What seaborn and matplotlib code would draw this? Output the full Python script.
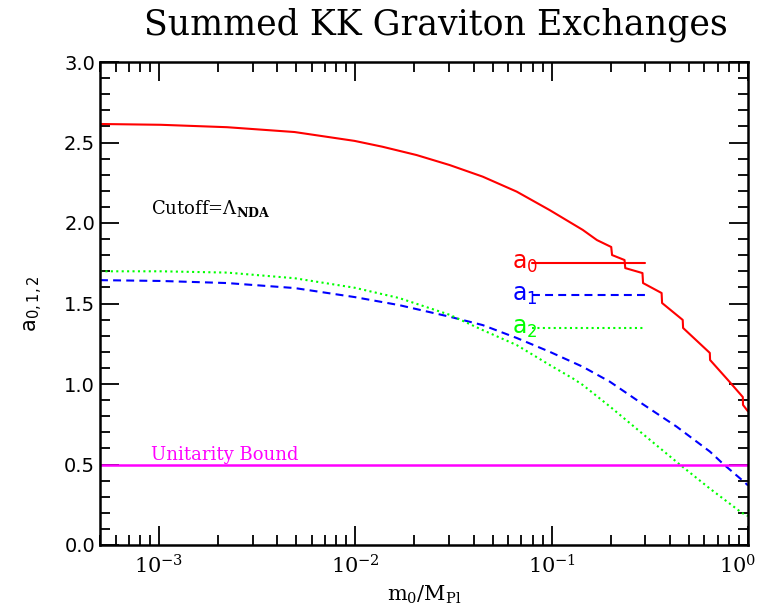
import numpy as np
import pandas as pd
import matplotlib
matplotlib.use('Agg')
import matplotlib.pyplot as plt
import matplotlib.transforms as mtransforms
import seaborn as sns
from matplotlib.ticker import FixedLocator, NullFormatter, MultipleLocator, LogLocator

# ---- data ----
# a0 (red, solid) -- staircase at large m0
a0_x = [5e-4, 1.02e-3, 2.22e-3, 4.9e-3, 9.9e-3, 0.0137, 0.0205, 0.0302, 0.0445, 0.0663,
        0.0977, 0.144, 0.170, 0.201, 0.203, 0.235, 0.237, 0.290, 0.292, 0.363, 0.365,
        0.465, 0.467, 0.639, 0.641, 0.79, 0.941, 0.943, 1.0]
a0_y = [2.615, 2.61, 2.595, 2.565, 2.51, 2.474, 2.422, 2.36, 2.288, 2.195,
        2.08, 1.957, 1.894, 1.851, 1.801, 1.770, 1.72, 1.689, 1.627, 1.565, 1.503,
        1.398, 1.348, 1.193, 1.149, 1.025, 0.919, 0.87, 0.83]

# a1 (blue, dashed)
a1_x = [5e-4, 1.02e-3, 2.22e-3, 4.9e-3, 9.9e-3, 0.0167, 0.0302, 0.0445, 0.0663, 0.0977,
        0.144, 0.198, 0.291, 0.433, 0.640, 0.745, 0.96, 1.0]
a1_y = [1.645, 1.64, 1.627, 1.596, 1.54, 1.49, 1.418, 1.366, 1.286, 1.20,
        1.107, 1.014, 0.875, 0.735, 0.58, 0.505, 0.39, 0.37]

# a2 (green, dotted)
a2_x = [5e-4, 1.02e-3, 2.22e-3, 4.9e-3, 9.9e-3, 0.0167, 0.0302, 0.0445, 0.0663, 0.0977,
        0.128, 0.144, 0.198, 0.291, 0.449, 0.640, 0.93, 1.0]
a2_y = [1.70, 1.70, 1.692, 1.657, 1.598, 1.534, 1.43, 1.335, 1.242, 1.118,
        1.035, 0.994, 0.86, 0.69, 0.50, 0.35, 0.20, 0.18]

unitarity = 0.5
key_levels = [1.75, 1.55, 1.35]
key_x = [0.079, 0.30]

x_ticks = [1e-3, 1e-2, 1e-1, 1.0]
x_tick_labels = [r'$10^{-3}$', r'$10^{-2}$', r'$10^{-1}$', r'$10^{0}$']

sns.set_style('ticks')
plt.rcParams['mathtext.fontset'] = 'dejavuserif'
plt.rcParams['font.family'] = ['DejaVu Sans']
for key in ['text.color', 'axes.labelcolor', 'xtick.color', 'ytick.color']:
    plt.rcParams[key] = 'black'

fig = plt.figure(figsize=(7.63, 6.10), dpi=100)
ax = fig.add_axes([100 / 763, 1 - 545 / 610, 648 / 763, 483 / 610])

red, blue, green, magenta = '#ff0000', '#0000ff', '#00ff00', '#ff00ff'
dash_a1 = [3.8, 2.5]
dash_a2 = [1.0, 1.6]

df0 = pd.DataFrame({'x': a0_x, 'y': a0_y})
df1 = pd.DataFrame({'x': a1_x, 'y': a1_y})
df2 = pd.DataFrame({'x': a2_x, 'y': a2_y})

sns.lineplot(data=df0, x='x', y='y', ax=ax, color=red, lw=1.5, estimator=None)
sns.lineplot(data=df1, x='x', y='y', ax=ax, color=blue, lw=1.5, estimator=None)
ax.lines[-1].set_dashes(dash_a1)
sns.lineplot(data=df2, x='x', y='y', ax=ax, color=green, lw=1.5, estimator=None)
ax.lines[-1].set_dashes(dash_a2)

ax.axhline(unitarity, color=magenta, lw=1.8)

# key lines
for lvl, col, dash in zip(key_levels, [red, blue, green], [None, dash_a1, dash_a2]):
    ln, = ax.plot(key_x, [lvl, lvl], color=col, lw=1.5)
    if dash:
        ln.set_dashes(dash)
for i, (lvl, col) in enumerate(zip(key_levels, [red, blue, green])):
    ax.text(0.063, lvl, r'$\mathsf{a_%d}$' % i, color=col, fontsize=17,
            ha='left', va='center')

ax.text(9.1e-4, unitarity + 0.005, 'Unitarity Bound', color=magenta, fontsize=13,
        family='DejaVu Serif', ha='left', va='bottom')
ax.text(9.1e-4, 2.09, r'Cutoff=$\Lambda_{\mathbf{NDA}}$', color='black', fontsize=13,
        family='DejaVu Serif', ha='left', va='center')

ax.set_xscale('log')
ax.set_xlim(5e-4, 1.0)
ax.set_ylim(0, 3.0)

ax.xaxis.set_major_locator(FixedLocator(x_ticks))
ax.set_xticklabels(x_tick_labels, fontsize=15)
ax.xaxis.set_minor_locator(LogLocator(base=10, subs=np.arange(2, 10), numticks=20))
ax.xaxis.set_minor_formatter(NullFormatter())
ax.set_yticks([0, 0.5, 1.0, 1.5, 2.0, 2.5, 3.0])
ax.set_yticklabels(['0.0', '0.5', '1.0', '1.5', '2.0', '2.5', '3.0'], fontsize=14)
ax.yaxis.set_minor_locator(MultipleLocator(0.1))

ax.tick_params(which='both', direction='in', top=True, right=True, color='black', width=1.3)
ax.tick_params(which='major', length=14)
ax.tick_params(which='minor', length=7)
ax.tick_params(axis='x', which='major', pad=7)
for s in ax.spines.values():
    s.set_linewidth(1.8)
    s.set_color('black')

# pull the last x label in so it stays on the canvas
last = ax.get_xticklabels()[-1]
last.set_transform(last.get_transform() +
                   mtransforms.ScaledTranslation(-0.1, 0, fig.dpi_scale_trans))

ax.set_xlabel(r'$\mathrm{m_0/M_{Pl}}$', fontsize=15, labelpad=4)
ax.set_ylabel(r'$\mathsf{a_{0,1,2}}$', fontsize=15, labelpad=14)
fig.text(436 / 763, 1 - 25 / 610, 'Summed KK Graviton Exchanges', family='DejaVu Serif',
         fontsize=25, ha='center', va='center')

fig.savefig('out.png', dpi=100)
